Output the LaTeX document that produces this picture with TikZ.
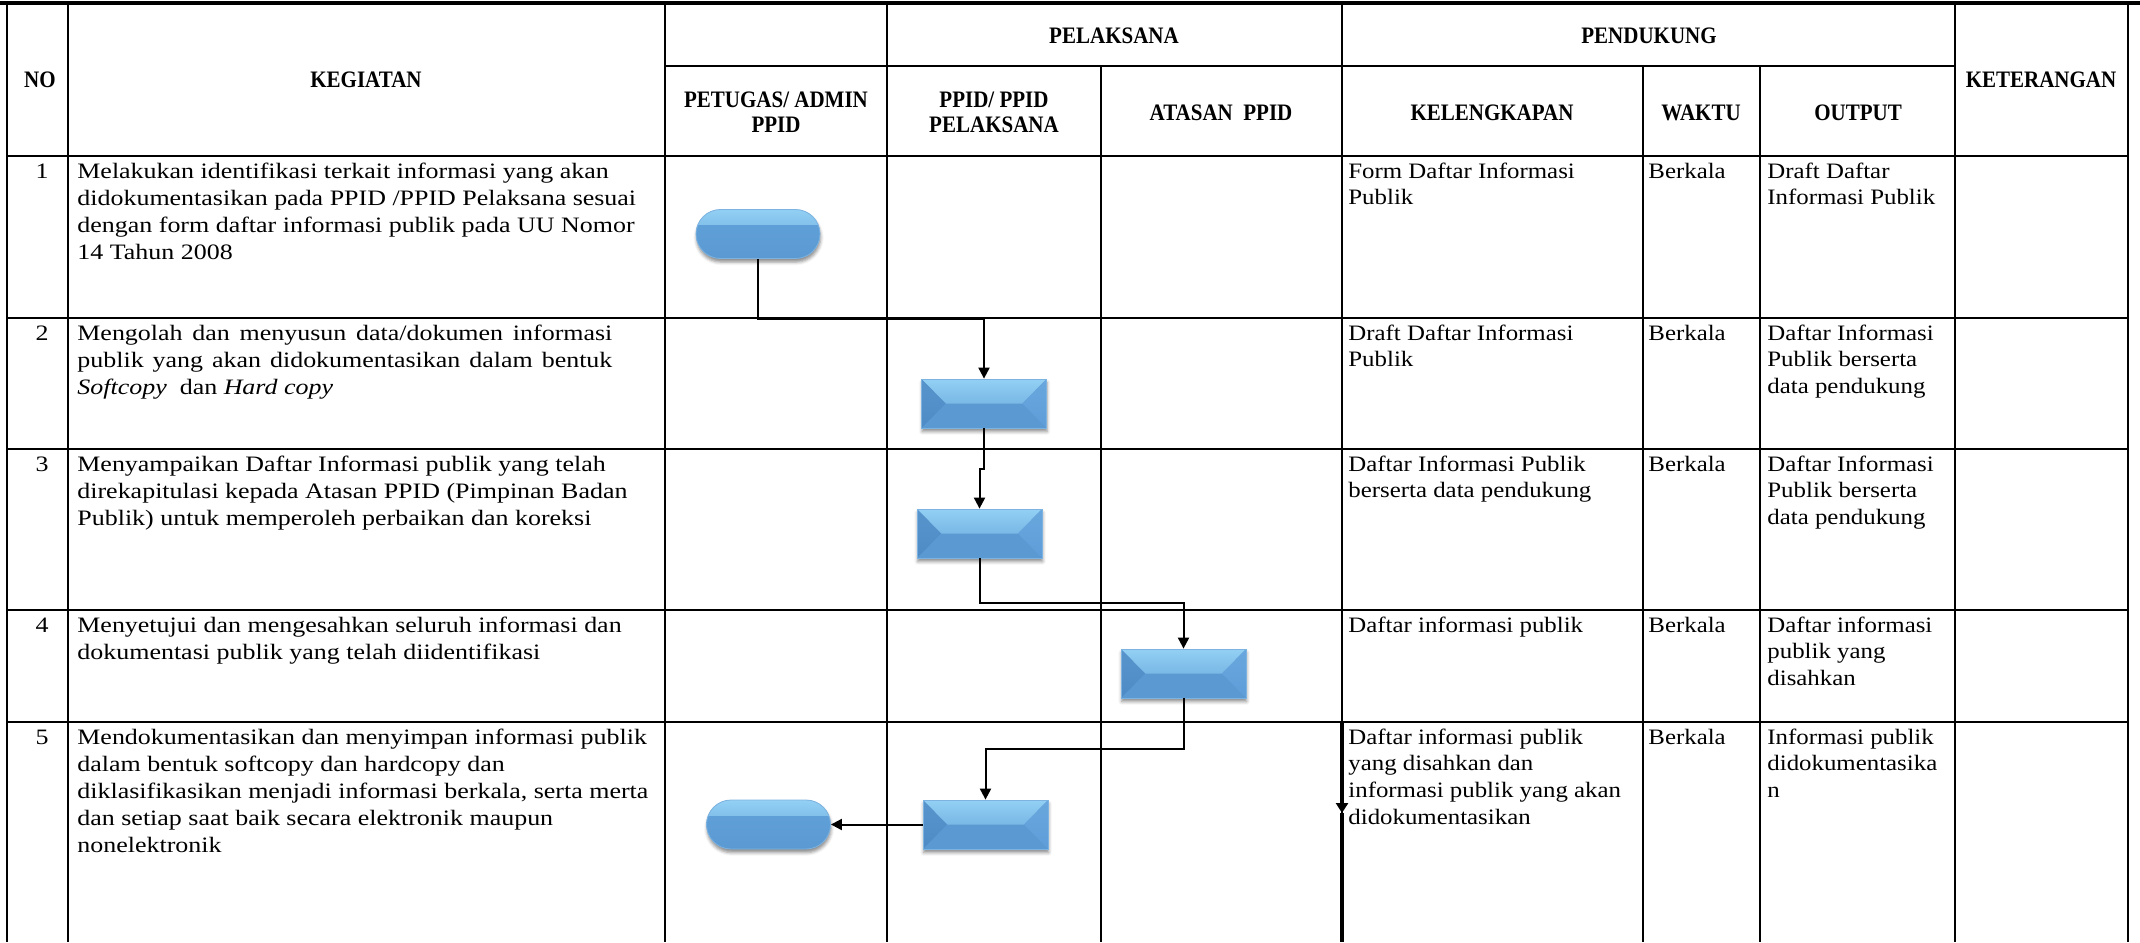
\documentclass[tikz,border=0pt]{standalone}
\usepackage{fontspec}
\setmainfont{Liberation Serif}
\newfontfamily\bodyfont[FakeStretch=1.18]{Liberation Serif}
\newfontfamily\sidefont[FakeStretch=1.13]{Liberation Serif}
\newfontfamily\headfont[FakeStretch=0.89]{Liberation Serif}
\usetikzlibrary{arrows.meta,shapes.misc,shadows.blur}

\definecolor{bvLight}{HTML}{93D0F4}
\definecolor{bvMid}{HTML}{68AADF}
\definecolor{bvLow}{HTML}{5F9FD8}
\definecolor{bvBase}{HTML}{5B99D2}
\definecolor{bvLeft}{HTML}{4E8AC5}
\definecolor{bvRight}{HTML}{5E9DD8}
\definecolor{bvEdge}{HTML}{7DB3E0}

% multi-line cell text, first baseline on the anchor
\newcommand{\rows}[1]{\begin{tabular}[t]{@{}l@{}}#1\end{tabular}}
\newcommand{\crows}[1]{\begin{tabular}[t]{@{}c@{}}#1\end{tabular}}

\tikzset{
  tabline/.style={line width=1.3pt, black},
  topline/.style={line width=2.4pt, black},
  flow/.style={line width=1pt, black, -{Triangle[length=5.5pt,width=5.5pt]}},
  body/.style={anchor=base west, inner sep=0pt, font=\bodyfont\fontsize{11pt}{13.5pt}\selectfont},
  side/.style={anchor=base west, inner sep=0pt, font=\sidefont\fontsize{11pt}{13.4pt}\selectfont},
  num/.style={anchor=base, inner sep=0pt, font=\bodyfont\fontsize{11pt}{13.5pt}\selectfont},
  head/.style={anchor=base, inner sep=0pt, font=\headfont\bfseries\fontsize{11.8pt}{12.5pt}\selectfont},
  softshadow/.style={blur shadow={shadow xshift=0.3pt, shadow yshift=-1.8pt,
      shadow blur radius=1.6pt, shadow opacity=45}},
  procbox/.style={rectangle, minimum width=62.5pt, minimum height=24.5pt, inner sep=0pt,
    fill=bvBase, draw=bvEdge, line width=0.4pt, softshadow,
    path picture={
      \shade[top color=bvLight, middle color=bvMid, bottom color=bvLow]
        (path picture bounding box.north west) -- (path picture bounding box.north east)
        -- ([xshift=-12pt]path picture bounding box.east)
        -- ([xshift=12pt]path picture bounding box.west) -- cycle;
      \shade[top color=bvLeft!85!bvLight, bottom color=bvLeft]
        (path picture bounding box.north west)
        -- ([xshift=12pt]path picture bounding box.west)
        -- (path picture bounding box.south west) -- cycle;
      \shade[top color=bvRight!80!bvLight, bottom color=bvRight]
        (path picture bounding box.north east)
        -- ([xshift=-12pt]path picture bounding box.east)
        -- (path picture bounding box.south east) -- cycle;
    }},
  termbox/.style={rounded rectangle, minimum width=62pt, minimum height=24.5pt, inner sep=0pt,
    fill=bvLow, draw=bvEdge, line width=0.4pt, softshadow,
    path picture={
      \shade[top color=bvLight, bottom color=bvLow]
        (path picture bounding box.north west)
        rectangle ([yshift=-8pt]path picture bounding box.north east);
      \shade[top color=bvLow, bottom color=bvBase]
        ([yshift=-8pt]path picture bounding box.north west)
        rectangle (path picture bounding box.south east);
    }},
}

\begin{document}
\begin{tikzpicture}[x=0.5pt, y=-0.5pt]
\useasboundingbox (0,0) rectangle (2140,942);

% ---------- table grid ----------
\draw[topline] (0,3) -- (2140,3);
\foreach \xx in {7,68,665,887,1342,1955,2128}
  \draw[tabline] (\xx,3) -- (\xx,942);
\foreach \xx in {1101,1643,1760}
  \draw[tabline] (\xx,66) -- (\xx,942);
\draw[tabline] (665,66) -- (1955,66);
\foreach \yy in {156,318,449,610,722}
  \draw[tabline] (7,\yy) -- (2128,\yy);

% ---------- header ----------
\node[head] (hno)   at (40,87)    {NO};
\node[head] (hkeg)  at (366,87)   {KEGIATAN};
\node[head] (hpel)  at (1114,43)  {PELAKSANA};
\node[head] (hpen)  at (1649,43)  {PENDUKUNG};
\node[head] (hket)  at (2041,87)  {KETERANGAN};
\node[head] (hpet)  at (776,107)  {\crows{PETUGAS/ ADMIN\\PPID}};
\node[head] (hppid) at (994,107)  {\crows{PPID/ PPID\\PELAKSANA}};
\node[head] (hata)  at (1221,120) {ATASAN\ \ PPID};
\node[head] (hkel)  at (1492,120) {KELENGKAPAN};
\node[head] (hwak)  at (1701,120) {WAKTU};
\node[head] (hout)  at (1858,120) {OUTPUT};

% ---------- row 1 ----------
\node[num]  (n1) at (42,178)   {1};
\node[body] (k1) at (77,178)   {\rows{Melakukan identifikasi terkait informasi yang akan\\didokumentasikan pada PPID /PPID Pelaksana sesuai\\dengan form daftar informasi publik pada UU Nomor\\14 Tahun 2008}};
\node[side] (l1) at (1348,178) {\rows{Form Daftar Informasi\\Publik}};
\node[side] (w1) at (1648,178) {Berkala};
\node[side] (o1) at (1767,178) {\rows{Draft Daftar\\Informasi Publik}};

% ---------- row 2 ----------
\node[num]  (n2) at (42,340)   {2};
\node[body] (k2) at (77,340)   {\rows{\makebox[267.5pt][s]{Mengolah dan menyusun data/dokumen informasi}\\\makebox[267.5pt][s]{publik yang akan didokumentasikan dalam bentuk}\\\textit{Softcopy}\ \ dan \textit{Hard copy}}};
\node[side] (l2) at (1348,340) {\rows{Draft Daftar Informasi\\Publik}};
\node[side] (w2) at (1648,340) {Berkala};
\node[side] (o2) at (1767,340) {\rows{Daftar Informasi\\Publik berserta\\data pendukung}};

% ---------- row 3 ----------
\node[num]  (n3) at (42,471)   {3};
\node[body] (k3) at (77,471)   {\rows{Menyampaikan Daftar Informasi publik yang telah\\direkapitulasi kepada Atasan PPID (Pimpinan Badan\\Publik) untuk memperoleh perbaikan dan koreksi}};
\node[side] (l3) at (1348,471) {\rows{Daftar Informasi Publik\\berserta data pendukung}};
\node[side] (w3) at (1648,471) {Berkala};
\node[side] (o3) at (1767,471) {\rows{Daftar Informasi\\Publik berserta\\data pendukung}};

% ---------- row 4 ----------
\node[num]  (n4) at (42,632)   {4};
\node[body] (k4) at (77,632)   {\rows{Menyetujui dan mengesahkan seluruh informasi dan\\dokumentasi publik yang telah diidentifikasi}};
\node[side] (l4) at (1348,632) {Daftar informasi publik};
\node[side] (w4) at (1648,632) {Berkala};
\node[side] (o4) at (1767,632) {\rows{Daftar informasi\\publik yang\\disahkan}};

% ---------- row 5 ----------
\node[num]  (n5) at (42,744)   {5};
\node[body] (k5) at (77,744)   {\rows{Mendokumentasikan dan menyimpan informasi publik\\dalam bentuk softcopy dan hardcopy dan\\diklasifikasikan menjadi informasi berkala, serta merta\\dan setiap saat baik secara elektronik maupun\\nonelektronik}};
\node[side] (l5) at (1348,744) {\rows{Daftar informasi publik\\yang disahkan dan\\informasi publik yang akan\\didokumentasikan}};
\node[side] (w5) at (1648,744) {Berkala};
\node[side] (o5) at (1767,744) {\rows{Informasi publik\\didokumentasika\\n}};

% ---------- flow shapes ----------
\node[termbox] (t1) at (758,234)    {};
\node[procbox] (p2) at (984,403.5)  {};
\node[procbox] (p3) at (979.5,533.5){};
\node[procbox] (p4) at (1183.5,673.5){};
\node[procbox] (p5) at (985.5,824.5){};
\node[termbox] (t2) at (768.5,824.5){};

% ---------- connectors ----------
\coordinate (j1) at (871,319);
\coordinate (j2) at (981,469);
\coordinate (j3) at (1080,603);
\coordinate (j4) at (1085,749);
\draw[flow] (t1.south) |- (j1) -| (p2.north);
\draw[flow] (p2.south) |- (j2) -| (p3.north);
\draw[flow] (p3.south) |- (j3) -| (p4.north);
\draw[flow] (p4.south) |- (j4) -| (p5.north);
\draw[flow] (p5.west) -- (t2.east);

% heavy rule with a down arrow along the column edge of row 5
\coordinate (s1) at (1342,722);
\coordinate (s2) at (1342,813);
\coordinate (s3) at (1342,942);
\draw[line width=2pt] (s2) -- (s3);
\draw[line width=2pt, -{Triangle[length=5pt,width=6pt]}] (s1) -- (s2);
\end{tikzpicture}
\end{document}
